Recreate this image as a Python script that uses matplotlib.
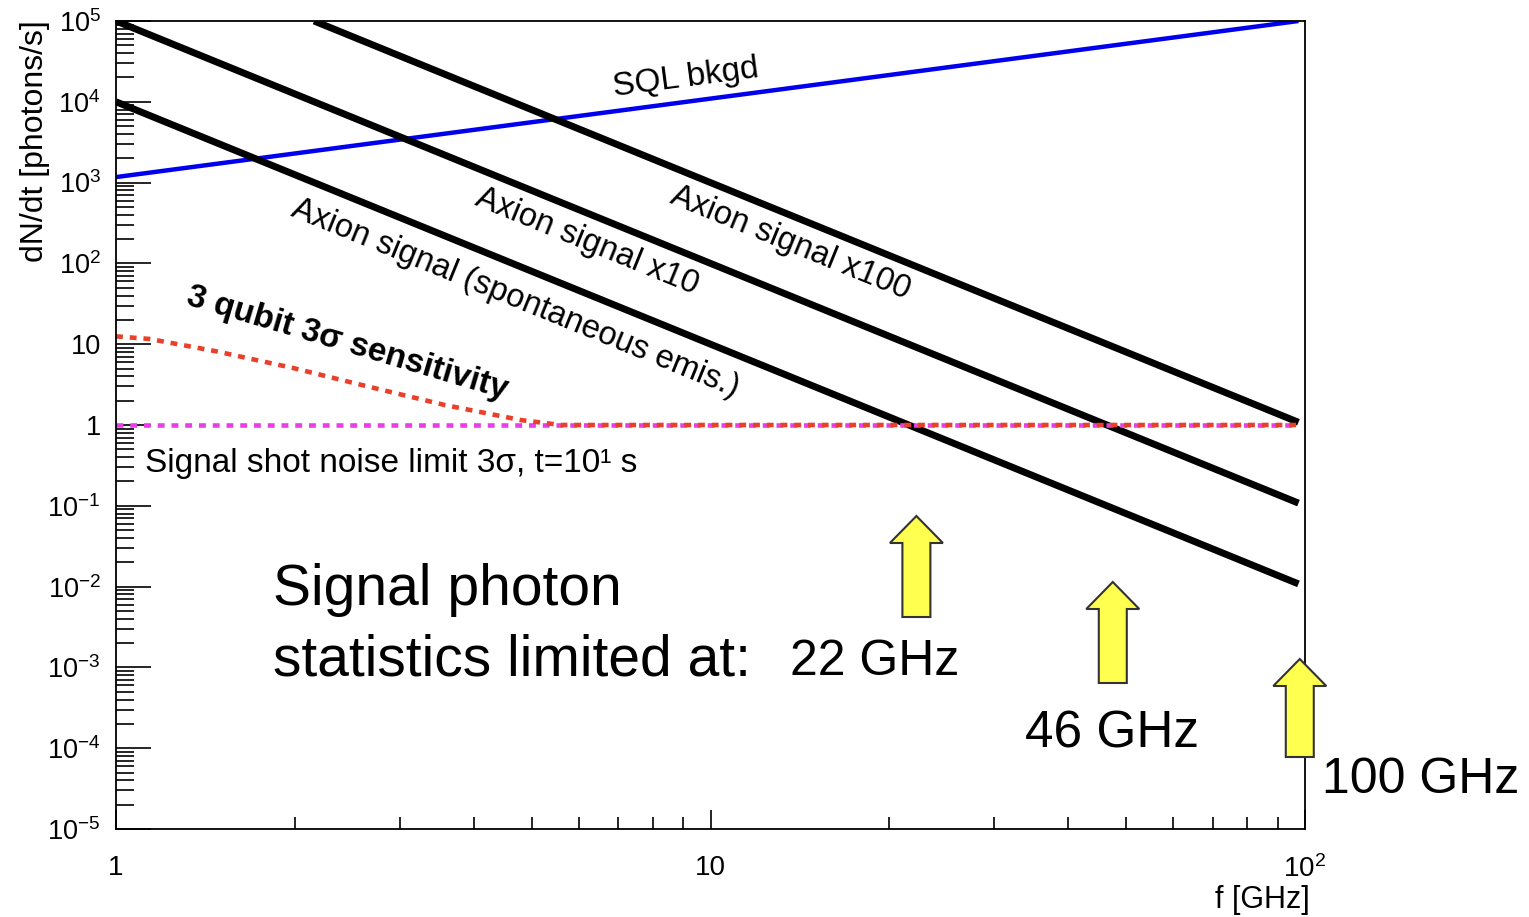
import numpy as np
import matplotlib
matplotlib.use("Agg")
import matplotlib.pyplot as plt
from matplotlib.ticker import FixedLocator, FixedFormatter, LogLocator, NullFormatter
from matplotlib.patches import Polygon

plt.rcParams['font.family'] = ['Liberation Sans', 'DejaVu Sans']
plt.rcParams['mathtext.fontset'] = 'custom'
plt.rcParams['mathtext.rm'] = 'Liberation Sans'
plt.rcParams['mathtext.it'] = 'Liberation Sans:italic'
plt.rcParams['mathtext.bf'] = 'Liberation Sans:bold'

# ---------------- data ----------------
freq_range = [1.0, 97.5]
sql_bkgd = [1.17e3, 1.0e5]
axion_signal = [1.0e4, 1.08e-2]
axion_x10 = [1.0e5, 1.08e-1]
freq_x100 = [2.154, 97.5]
axion_x100 = [1.0e5, 1.08]
qubit_freq = [1.0, 1.14, 1.47, 1.98, 2.65, 3.57, 4.8, 5.6, 97.5]
qubit_sens = [12.5, 11.6, 8.2, 5.1, 3.0, 1.77, 1.15, 1.0, 1.0]
shot_freq = [1.0, 97.5]
shot_limit = [1.0, 1.0]
arrow_freqs = [22.2, 47.5, 98.0]
arrow_labels = ['22 GHz', '46 GHz', '100 GHz']
yticks = [1e-5, 1e-4, 1e-3, 1e-2, 1e-1, 1, 10, 1e2, 1e3, 1e4, 1e5]
ytick_labels = ['10$^{-5}$', '10$^{-4}$', '10$^{-3}$', '10$^{-2}$', '10$^{-1}$',
                '1', '10', '10$^{2}$', '10$^{3}$', '10$^{4}$', '10$^{5}$']
xticks = [1, 10, 100]
xtick_labels = ['1', '10', '10$^{2}$']

W, H = 1529, 917
fig = plt.figure(figsize=(W / 100, H / 100), dpi=100)
ax = fig.add_axes([116 / W, 1 - 829 / H, (1305 - 116) / W, (829 - 21) / H])
ax.set_xscale('log')
ax.set_yscale('log')
ax.set_xlim(1, 100)
ax.set_ylim(1e-5, 1e5)

# lines
ax.plot(freq_range, sql_bkgd, color='#0000ee', lw=3.2, solid_capstyle='butt')
ax.plot(freq_range, axion_signal, color='black', lw=5.0, solid_capstyle='butt')
ax.plot(freq_range, axion_x10, color='black', lw=5.0, solid_capstyle='butt')
ax.plot(freq_x100, axion_x100, color='black', lw=5.0, solid_capstyle='butt')
ax.plot(shot_freq, shot_limit, color='#e83ee8', lw=3.3, linestyle=(0, (1.5, 1.5)))
ax.plot(qubit_freq, qubit_sens, color='#e8402a', lw=3.3, linestyle=(0, (1.5, 1.5)))

# ticks
ax.yaxis.set_major_locator(FixedLocator(yticks))
ax.yaxis.set_major_formatter(FixedFormatter(ytick_labels))
ax.yaxis.set_minor_locator(LogLocator(base=10, subs=np.arange(2, 10), numticks=100))
ax.yaxis.set_minor_formatter(NullFormatter())
ax.xaxis.set_major_locator(FixedLocator(xticks))
ax.xaxis.set_major_formatter(FixedFormatter(xtick_labels))
ax.xaxis.set_minor_locator(LogLocator(base=10, subs=np.arange(2, 10), numticks=100))
ax.xaxis.set_minor_formatter(NullFormatter())
ax.tick_params(axis='y', which='major', direction='in', length=25, width=1.2,
               labelsize=19.5, pad=11)
ax.tick_params(axis='y', which='minor', direction='in', length=13, width=1.2)
ax.tick_params(axis='x', which='major', direction='in', length=14, width=1.2,
               labelsize=20, pad=19)
ax.tick_params(axis='x', which='minor', direction='in', length=9, width=1.2)
for s in ax.spines.values():
    s.set_linewidth(1.3)

def T(x, y, s, **kw):
    fig.text(x / W, 1 - y / H, s, **kw)

# axis titles
T(35, 20, 'dN/dt [photons/s]', rotation=90, ha='center', va='top', fontsize=23)
T(1310, 900, 'f [GHz]', ha='right', va='center', fontsize=22)

# annotations
T(686, 78, 'SQL bkgd', rotation=7.5, ha='center', va='center',
  rotation_mode='anchor', fontsize=24)
T(790, 243, 'Axion signal x100', rotation=-22.2, ha='center', va='center',
  rotation_mode='anchor', fontsize=23.5)
T(587, 242, 'Axion signal x10', rotation=-22.2, ha='center', va='center',
  rotation_mode='anchor', fontsize=23.5)
T(515, 298, 'Axion signal (spontaneous emis.)', rotation=-22.2, ha='center',
  va='center', rotation_mode='anchor', fontsize=23.5)
T(347, 343, '3 qubit 3σ sensitivity', rotation=-16.5, ha='center', va='center',
  rotation_mode='anchor', fontsize=24, fontweight='bold')
T(145, 463, 'Signal shot noise limit 3σ, t=10¹ s', ha='left', va='center',
  fontsize=24)
T(273, 605, 'Signal photon', ha='left', va='baseline', fontsize=41)
T(273, 675, 'statistics limited at:', ha='left', va='baseline', fontsize=41)

label_pos = [(790, 675), (1025, 748), (1322, 793)]
label_size = [36, 37, 36]
for (lx, ly), lab, fs in zip(label_pos, arrow_labels, label_size):
    T(lx, ly, lab, ha='left', va='baseline', fontsize=fs)

# arrows
tips = [516, 582, 659]
bottoms = [617, 683, 757]
head_len, head_w, shaft_w = 27, 53, 28
for f, ty, by in zip(arrow_freqs, tips, bottoms):
    xc = ax.transData.transform((f, 1.0))[0]
    pts = [(xc, ty), (xc + head_w / 2, ty + head_len), (xc + shaft_w / 2, ty + head_len),
           (xc + shaft_w / 2, by), (xc - shaft_w / 2, by), (xc - shaft_w / 2, ty + head_len),
           (xc - head_w / 2, ty + head_len)]
    pts = [(px / W, 1 - py / H) for px, py in pts]
    fig.patches.append(Polygon(pts, closed=True, transform=fig.transFigure,
                               facecolor='#ffff50', edgecolor='#333333', lw=1.5,
                               zorder=5))

fig.savefig('out.png', dpi=100)
